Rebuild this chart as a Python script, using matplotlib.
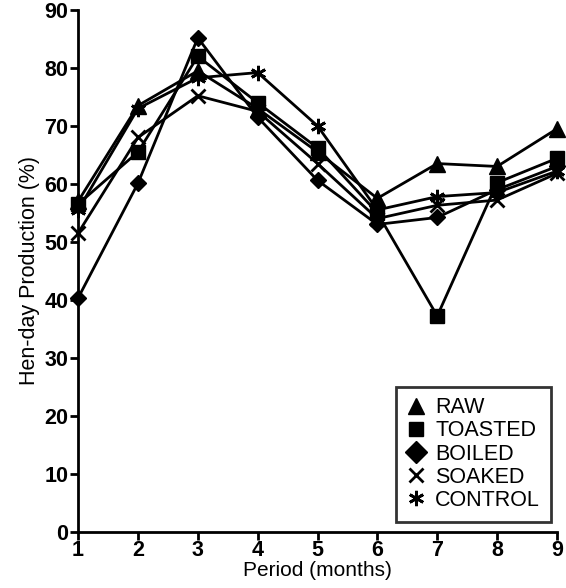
import numpy as np
import matplotlib.pyplot as plt
from matplotlib.lines import Line2D

plt.rcParams['font.family'] = ['Liberation Sans', 'DejaVu Sans']

period = [1, 2, 3, 4, 5, 6, 7, 8, 9]
raw = [57.0, 73.5, 79.5, 73.0, 65.5, 57.5, 63.5, 63.0, 69.5]
toasted = [56.5, 65.5, 82.0, 74.0, 66.2, 55.0, 37.2, 60.2, 64.4]
boiled = [40.3, 60.1, 85.2, 71.5, 60.6, 53.0, 54.2, 59.0, 63.0]
soaked = [51.5, 68.0, 75.2, 72.5, 63.5, 54.0, 56.3, 57.2, 61.8]
control = [55.5, 73.0, 78.3, 79.2, 70.0, 55.5, 57.8, 58.5, 62.2]

# name, values, marker, size in plot, size in legend
series = [
    ("RAW", raw, '^', 12, 12),
    ("TOASTED", toasted, 's', 10.5, 10.5),
    ("BOILED", boiled, 'D', 8, 11),
    ("SOAKED", soaked, 'x', 10, 10),
    ("CONTROL", control, (6, 2, 0), 11, 11),
]

fig = plt.figure(figsize=(5.66, 5.88), dpi=100)
ax = fig.add_axes([0.138, 0.096, 0.846, 0.887])

handles = []
for name, vals, mk, ms, lms in series:
    mew = 2 if mk in ('x', (6, 2, 0)) else 1
    ax.plot(period, vals, color='black', lw=2, marker=mk, markersize=ms,
            markeredgewidth=mew, clip_on=False)
    handles.append(Line2D([], [], color='black', lw=0, marker=mk,
                          markersize=lms, markeredgewidth=mew, label=name))

ax.set_xlim(1, 9)
ax.set_ylim(0, 90)
ax.set_xticks(period)
ax.set_yticks(np.arange(0, 91, 10))
for s in ['top', 'right']:
    ax.spines[s].set_visible(False)
for s in ['left', 'bottom']:
    ax.spines[s].set_linewidth(2)
ax.tick_params(width=2, length=6, labelsize=15.5, pad=1)
ax.tick_params(axis='x', pad=0)
for lab in ax.get_xticklabels() + ax.get_yticklabels():
    lab.set_fontweight('bold')

ax.set_xlabel("Period (months)", fontsize=15, labelpad=0)
ax.set_ylabel("Hen-day Production (%)", fontsize=15.5, labelpad=3)

leg = ax.legend(handles=handles, loc='lower right', bbox_to_anchor=(0.987, 0.019),
                fontsize=15.5, frameon=True, fancybox=False, edgecolor='black',
                handlelength=0.8, handletextpad=0.5, labelspacing=0.1,
                borderpad=0.5, borderaxespad=0)
leg.get_frame().set_linewidth(2)

fig.savefig("out.png", dpi=100)
